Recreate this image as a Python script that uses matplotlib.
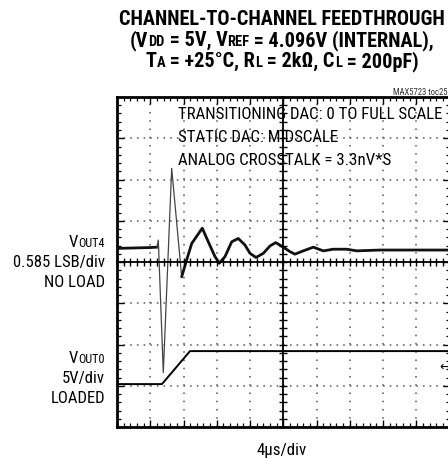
import matplotlib
matplotlib.use('Agg')
import matplotlib.pyplot as plt
import numpy as np
from matplotlib.ticker import MultipleLocator, NullFormatter

FONT = ['Roboto Condensed', 'Liberation Sans Narrow', 'Roboto', 'DejaVu Sans']
plt.rcParams['font.family'] = FONT
plt.rcParams['lines.scale_dashes'] = False

# ---- data (time in us, level in screen divisions) ----
t_vout4 = [0.0, 3.97, 4.81, 4.97, 5.57, 6.58, 7.78, 8.38, 8.99, 10.26, 10.98,
           11.79, 12.31, 12.99, 13.80, 14.59, 15.40, 16.00, 16.72, 17.60,
           18.41, 19.09, 20.01, 20.81, 21.41, 22.41, 23.62, 24.82, 26.02,
           27.63, 28.84, 31.64, 40.0]
v_vout4 = [0.33, 0.35, 0.36, 0.53, -2.68, 2.27, -0.36, 0.05, 0.45, 0.82, 0.49,
           0.13, -0.03, 0.13, 0.49, 0.57, 0.41, 0.21, 0.11, 0.21,
           0.39, 0.47, 0.36, 0.25, 0.19, 0.27, 0.36, 0.27, 0.31,
           0.31, 0.27, 0.29, 0.29]
t_vout0 = [0.0, 5.41, 8.78, 40.0]
v_vout0 = [-2.96, -2.96, -2.16, -2.16]

title_lines = [
    [("CHANNEL-TO-CHANNEL FEEDTHROUGH", 'big')],
    [("(V", 'big'), ("DD", 'small'), (" = 5V, V", 'big'), ("REF", 'small'),
     (" = 4.096V (INTERNAL),", 'big')],
    [("T", 'big'), ("A", 'small'), (" = +25°C, R", 'big'), ("L", 'small'),
     (" = 2kΩ, C", 'big'), ("L", 'small'), (" = 200pF)", 'big')],
]
notes = ["TRANSITIONING DAC: 0 TO FULL SCALE", "STATIC DAC: MIDSCALE",
         "ANALOG CROSSTALK = 3.3nV*S"]
x_label = "4µs/div"
tag = "MAX5723 toc25"

W, H = 448, 458
fig = plt.figure(figsize=(W / 100, H / 100), dpi=100)
fig.patch.set_facecolor('white')

L, R, T, B = 117, 449.5, 97, 427
pos = [L / W, 1 - B / H, (R - L) / W, (B - T) / H]
ax = fig.add_axes(pos)
ax.set_xlim(0, 40)
ax.set_ylim(-4, 4)
ax.xaxis.set_major_locator(MultipleLocator(4))
ax.xaxis.set_minor_locator(MultipleLocator(0.8))
ax.yaxis.set_major_locator(MultipleLocator(1))
ax.yaxis.set_minor_locator(MultipleLocator(0.2))
for a in (ax.xaxis, ax.yaxis):
    a.set_major_formatter(NullFormatter())
    a.set_minor_formatter(NullFormatter())
ax.tick_params(which='both', direction='in', top=True, right=True,
               bottom=True, left=True, color='black')
ax.tick_params(which='major', length=5, width=1.0)
ax.tick_params(which='minor', length=2.6, width=0.9)
for s in ax.spines.values():
    s.set_linewidth(2.0)
# dotted grid, dots spaced at the minor division
ax.xaxis.grid(True, which='major', color='#555555', lw=1.1,
              linestyle=(0, (1.1, 4.84)))
ax.yaxis.grid(True, which='major', color='#555555', lw=1.1,
              linestyle=(0, (1.1, 3.69)))
ax.set_axisbelow(True)

# centre cross with ticks
ax2 = fig.add_axes(pos, sharex=ax, sharey=ax)
ax2.patch.set_visible(False)
ax2.spines['top'].set_visible(False)
ax2.spines['right'].set_visible(False)
ax2.spines['left'].set_position(('data', 20))
ax2.spines['bottom'].set_position(('data', 0))
ax2.spines['left'].set_linewidth(1.3)
ax2.spines['bottom'].set_linewidth(1.3)
ax2.tick_params(which='both', direction='inout', length=6, width=1.0,
                labelbottom=False, labelleft=False)
ax2.set_zorder(0.5)

# traces
ax.plot(t_vout0, v_vout0, color='black', lw=1.4, zorder=3)
ax.plot(t_vout4[:3], v_vout4[:3], color='#111111', lw=2.0, zorder=3,
        solid_joinstyle='round')
ax.plot(t_vout4[2:7], v_vout4[2:7], color='#444444', lw=0.9, zorder=3)
ax.plot(t_vout4[6:], v_vout4[6:], color='#111111', lw=2.0, zorder=3,
        solid_joinstyle='round', solid_capstyle='round')

renderer = fig.canvas.get_renderer()


def measure(runs, sizes, weight):
    widths = []
    for s, k in runs:
        t1 = fig.text(0, 0, s + '|', fontsize=sizes[k], weight=weight)
        t2 = fig.text(0, 0, '|', fontsize=sizes[k], weight=weight)
        w = t1.get_window_extent(renderer).width - t2.get_window_extent(renderer).width
        t1.remove()
        t2.remove()
        widths.append(w)
    return widths


def fit_scale(runs, sizes, target, weight='normal'):
    return target / sum(measure(runs, sizes, weight))


def runs_text(x_px, y_px, runs, sizes, ha='center', weight='normal', color='black'):
    widths = measure(runs, sizes, weight)
    total = sum(widths)
    x0 = x_px - total / 2 if ha == 'center' else (x_px - total if ha == 'right' else x_px)
    for (s, k), w in zip(runs, widths):
        fig.text(x0 / W, 1 - y_px / H, s, fontsize=sizes[k], weight=weight,
                 va='baseline', ha='left', color=color)
        x0 += w


# title
tsizes = {'big': 14.0, 'small': 10.0}
f = min(fit_scale(ln, tsizes, tw, weight='bold')
        for ln, tw in zip(title_lines, [329, 335, 300]))
tsizes = {k: v * f for k, v in tsizes.items()}
for runs, base in zip(title_lines, [25, 46, 67]):
    runs_text(282, base, runs, tsizes, weight='bold')

fig.text(447 / W, 1 - 95 / H, tag, fontsize=6.2, ha='right', va='baseline',
         color='#333333')

# notes in plot
nsizes = {'big': 12.0}
f = fit_scale([(notes[0], 'big')], nsizes, 266)
nsizes = {'big': 12.0 * f}
for s, base in zip(notes, [119, 142, 165]):
    fig.text(178 / W, 1 - base / H, s, fontsize=nsizes['big'], ha='left',
             va='baseline')

# left labels
lsizes = {'big': 12.0, 'small': 8.8}
f = fit_scale([("0.585 LSB/div", 'big')], lsizes, 92)
lsizes = {k: v * f for k, v in lsizes.items()}
runs_text(105, 247, [("V", 'big'), ("OUT4", 'small')], lsizes, ha='right')
runs_text(105, 267, [("0.585 LSB/div", 'big')], lsizes, ha='right')
runs_text(105, 287, [("NO LOAD", 'big')], lsizes, ha='right')
runs_text(105, 363, [("V", 'big'), ("OUT0", 'small')], lsizes, ha='right')
runs_text(105, 383, [("5V/div", 'big')], lsizes, ha='right')
runs_text(105, 403, [("LOADED", 'big')], lsizes, ha='right')

fig.text(282 / W, 1 - 455 / H, x_label, fontsize=nsizes['big'], ha='center',
         va='baseline')

fig.text(439 / W, 1 - 367 / H, "←", fontsize=9, ha='left', va='center',
         family='DejaVu Sans')

fig.savefig('out.png', dpi=100)
